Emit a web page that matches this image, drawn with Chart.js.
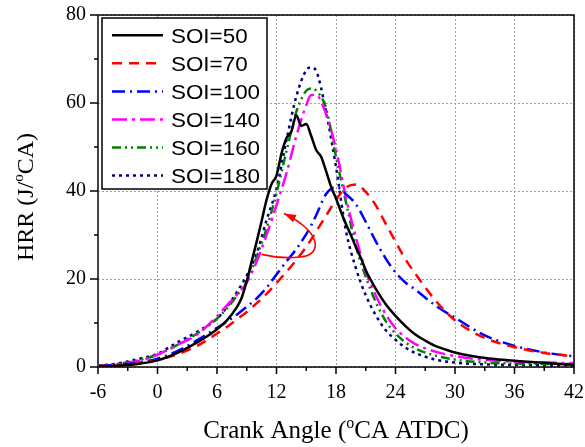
<!DOCTYPE html>
<html lang="en">
<head>
  <meta charset="UTF-8" />
  <title>HRR vs Crank Angle</title>
  <script src="https://cdn.jsdelivr.net/npm/chart.js"></script>
  <style>
    html, body {
      margin: 0;
      padding: 0;
      background: #fff;
    }
    .chart-wrapper {
      width: 585px;
      height: 447px;
      position: relative;
    }
  </style>
</head>
<body>

  <div class="chart-wrapper">
    <canvas id="hrrChart" width="585" height="447"></canvas>
  </div>

  <script>
    // crank angle (deg ATDC) shared by most curves
    const crankAngle = [-6, -4, -2, 0, 2, 4, 6, 7, 8, 9, 10, 11, 12, 13, 14, 15, 15.5, 16, 17, 18,
                        19, 20, 21, 22, 23, 24, 25, 26, 28, 30, 33, 36, 39, 42];

    // SOI=50 has a wavier trace, so it gets its own finer angle list
    const crankAngle50 = [-6, -4, -2, 0, 2, 4, 5, 6, 7, 8, 8.5, 9, 9.5, 10, 10.5, 11, 11.5, 12, 12.5, 13,
                          13.5, 14, 14.5, 15, 15.5, 16, 16.5, 17, 17.5, 18, 18.5, 19, 19.5, 20, 20.5, 21,
                          21.5, 22, 23, 24, 25, 26, 27, 28, 29, 30, 32, 34, 36, 38, 40, 42];
    const hrr50 = [0.1, 0.3, 0.7, 1.5, 3.2, 5.6, 7.0, 8.6, 10.6, 13.6, 15.8, 19.5, 24.0, 28.5, 33.2, 38.0,
                   41.6, 43.5, 48.5, 52.0, 53.5, 57.2, 54.8, 55.2, 52.5, 49.3, 47.8, 44.5, 41.0, 38.3,
                   35.3, 32.5, 30.0, 27.3, 24.8, 22.0, 19.8, 17.8, 14.3, 11.6, 9.3, 7.4, 6.0, 4.8, 4.0,
                   3.3, 2.4, 1.8, 1.4, 1.1, 0.8, 0.5];

    const hrr70 = [0.2, 0.4, 0.8, 1.6, 2.9, 4.8, 7.6, 9.1, 10.8, 12.5, 14.5, 16.6, 19.1, 21.6, 24.3, 27.3,
                   29.0, 30.8, 34.4, 38.0, 40.8, 41.5, 39.8, 36.8, 32.6, 28.5, 24.5, 21.2, 15.2, 10.6,
                   6.6, 4.5, 3.2, 2.4];
    const hrr100 = [0.2, 0.5, 1.0, 1.9, 3.6, 6.1, 8.9, 10.3, 11.9, 13.7, 15.6, 18.0, 21.0, 24.0, 26.8,
                    30.2, 32.2, 34.5, 39.3, 40.9, 39.3, 37.0, 33.0, 28.6, 24.7, 21.5, 19.2, 17.6, 14.0,
                    11.2, 7.2, 4.8, 3.3, 2.4];
    const hrr140 = [0.2, 0.6, 1.3, 2.8, 5.0, 7.4, 11.5, 14.0, 16.4, 19.2, 24.0, 30.0, 36.8, 44.0, 52.5,
                    59.5, 61.8, 61.8, 57.5, 49.5, 38.5, 29.5, 21.8, 16.3, 12.0, 8.8, 6.7, 5.2, 3.5,
                    2.5, 1.6, 1.2, 1.0, 0.9];
    const hrr160 = [0.3, 0.7, 1.5, 2.8, 5.0, 7.6, 11.0, 13.3, 16.2, 19.6, 25.0, 31.5, 39.5, 49.0, 58.0,
                    62.8, 63.3, 62.8, 58.8, 47.8, 37.5, 27.5, 20.5, 14.8, 10.5, 7.6, 5.6, 4.2, 2.6,
                    1.7, 1.0, 0.8, 0.7, 0.7];
    const hrr180 = [0.3, 0.8, 1.8, 3.0, 5.6, 8.0, 11.0, 13.6, 17.0, 20.8, 25.8, 33.4, 40.5, 51.5, 61.5,
                    67.5, 68.1, 67.3, 58.0, 45.5, 31.0, 22.5, 16.3, 11.8, 8.4, 6.2, 4.4, 3.2, 1.7,
                    1.0, 0.6, 0.5, 0.4, 0.4];

    const seriesLabels = ['SOI=50', 'SOI=70', 'SOI=100', 'SOI=140', 'SOI=160', 'SOI=180'];
    const seriesColors = ['#000000', '#ff0000', '#0000ff', '#ff00ff', '#008000', '#000080'];
    const seriesDashes = [[], [10, 7], [13, 5, 2, 5], [15, 5, 3, 5], [9, 4, 2, 4, 2, 4], [3, 4]];

    // red arrow annotation, in data units (crank angle, HRR)
    const arrowStart = [10.5, 25.6];
    const arrowBend = [14.3, 25.0];
    const arrowCtrl1 = [16.7, 25.2];
    const arrowCtrl2 = [16.6, 30.8];
    const arrowEnd = [12.75, 34.9];

    const toPoints = (xs, ys) => xs.map((v, i) => ({ x: v, y: ys[i] }));
    const seriesData = [
      toPoints(crankAngle50, hrr50),
      toPoints(crankAngle, hrr70),
      toPoints(crankAngle, hrr100),
      toPoints(crankAngle, hrr140),
      toPoints(crankAngle, hrr160),
      toPoints(crankAngle, hrr180)
    ];

    const serif = "'Liberation Serif', 'Times New Roman', serif";
    const sans = "'Liberation Sans', Arial, sans-serif";

    // draws "before" + superscript o + "after" centred on cx
    function supText(ctx, before, after, cx, baseline, size) {
      const big = size + 'px ' + serif;
      const small = Math.round(size * 0.62) + 'px ' + serif;
      ctx.font = big;
      const w1 = ctx.measureText(before).width;
      const w3 = ctx.measureText(after).width;
      ctx.font = small;
      const w2 = ctx.measureText('o').width;
      let x0 = cx - (w1 + w2 + w3) / 2;
      ctx.textAlign = 'left';
      ctx.textBaseline = 'alphabetic';
      ctx.font = big;
      ctx.fillText(before, x0, baseline);
      ctx.font = small;
      ctx.fillText('o', x0 + w1, baseline - size * 0.42);
      ctx.font = big;
      ctx.fillText(after, x0 + w1 + w2, baseline);
    }

    const hrrDecor = {
      id: 'hrrDecor',
      afterDatasetsDraw(chart) {
        const { ctx, chartArea: a, scales: { x, y } } = chart;
        const px = p => [x.getPixelForValue(p[0]), y.getPixelForValue(p[1])];
        ctx.save();

        // arrow
        const s = px(arrowStart), b = px(arrowBend), c1 = px(arrowCtrl1), c2 = px(arrowCtrl2), e = px(arrowEnd);
        ctx.strokeStyle = '#ff0000';
        ctx.fillStyle = '#ff0000';
        ctx.lineWidth = 1.6;
        ctx.setLineDash([]);
        ctx.beginPath();
        ctx.moveTo(s[0], s[1]);
        ctx.quadraticCurveTo((s[0] + b[0]) / 2, b[1] + 2, b[0], b[1]);
        ctx.bezierCurveTo(c1[0], c1[1], c2[0], c2[1], e[0], e[1]);
        ctx.stroke();
        const ang = Math.atan2(e[1] - c2[1], e[0] - c2[0]);
        ctx.beginPath();
        ctx.moveTo(e[0], e[1]);
        ctx.lineTo(e[0] - 12 * Math.cos(ang) + 4 * Math.sin(ang), e[1] - 12 * Math.sin(ang) - 4 * Math.cos(ang));
        ctx.lineTo(e[0] - 12 * Math.cos(ang) - 4 * Math.sin(ang), e[1] - 12 * Math.sin(ang) + 4 * Math.cos(ang));
        ctx.closePath();
        ctx.fill();

        // frame
        ctx.strokeStyle = '#000';
        ctx.lineWidth = 1.5;
        ctx.strokeRect(a.left, a.top, a.right - a.left, a.bottom - a.top);
        ctx.strokeStyle = '#444';
        ctx.lineWidth = 2;
        ctx.beginPath();
        ctx.moveTo(a.left, a.top);
        ctx.lineTo(a.left, a.bottom);
        ctx.stroke();

        // outward ticks, major + minor
        ctx.strokeStyle = '#000';
        ctx.lineWidth = 1.5;
        ctx.beginPath();
        for (let v = x.min; v <= x.max; v += 3) {
          const p = x.getPixelForValue(v);
          const len = ((v - x.min) % 6 === 0) ? 7 : 4;
          ctx.moveTo(p, a.bottom);
          ctx.lineTo(p, a.bottom + len);
        }
        for (let v = y.min; v <= y.max; v += 10) {
          const p = y.getPixelForValue(v);
          const len = (v % 20 === 0) ? 8 : 4;
          ctx.moveTo(a.left, p);
          ctx.lineTo(a.left - len, p);
        }
        ctx.stroke();

        // legend
        ctx.fillStyle = '#fff';
        ctx.fillRect(102, 18, 165, 171);
        ctx.strokeStyle = '#000';
        ctx.lineWidth = 1.5;
        ctx.strokeRect(102, 18, 165, 171);
        seriesLabels.forEach((lab, i) => {
          const cy = 35.3 + i * 28.05;
          ctx.strokeStyle = seriesColors[i];
          ctx.lineWidth = 2.5;
          ctx.setLineDash(seriesDashes[i]);
          ctx.beginPath();
          ctx.moveTo(112, cy);
          ctx.lineTo(163, cy);
          ctx.stroke();
          ctx.setLineDash([]);
          ctx.save();
          ctx.translate(171, cy + 7.2);
          ctx.scale(1.12, 1);
          ctx.fillStyle = '#000';
          ctx.font = '20px ' + sans;
          ctx.textAlign = 'left';
          ctx.textBaseline = 'alphabetic';
          ctx.fillText(lab, 0, 0);
          ctx.restore();
        });

        // axis titles
        ctx.fillStyle = '#000';
        supText(ctx, 'Crank Angle (', 'CA ATDC)', (a.left + a.right) / 2, 438, 25);
        ctx.save();
        ctx.translate(33, 197);
        ctx.rotate(-Math.PI / 2);
        supText(ctx, 'HRR (J/', 'CA)', 0, 0, 24);
        ctx.restore();

        ctx.restore();
      }
    };

    const ctx = document.getElementById('hrrChart').getContext('2d');
    const chart = new Chart(ctx, {
      type: 'line',
      data: {
        datasets: seriesLabels.map((lab, i) => ({
          label: lab,
          data: seriesData[i],
          borderColor: seriesColors[i],
          borderWidth: 2.5,
          borderDash: seriesDashes[i],
          pointRadius: 0,
          fill: false,
          cubicInterpolationMode: 'monotone'
        }))
      },
      options: {
        responsive: false,
        animation: false,
        layout: { padding: 0 },
        scales: {
          x: {
            type: 'linear',
            min: -6,
            max: 42,
            afterFit: s => {
              s.height = 80;
              s.paddingLeft = 0;
              s.paddingRight = 11;
            },
            ticks: {
              stepSize: 6,
              autoSkip: false,
              maxRotation: 0,
              padding: 14,
              color: '#000',
              font: { family: serif, size: 20 }
            },
            grid: { color: '#a0a0a0', lineWidth: 1, drawTicks: false },
            border: { display: false, dash: [2, 2] }
          },
          y: {
            min: 0,
            max: 80,
            afterFit: s => {
              s.width = 98;
              s.paddingTop = 15;
              s.paddingBottom = 0;
            },
            ticks: {
              stepSize: 20,
              padding: 12,
              color: '#000',
              font: { family: serif, size: 20 }
            },
            grid: { color: '#a0a0a0', lineWidth: 1, drawTicks: false },
            border: { display: false, dash: [2, 2] }
          }
        },
        plugins: {
          legend: { display: false },
          tooltip: { enabled: false }
        }
      },
      plugins: [hrrDecor]
    });
  </script>
</body>
</html>
